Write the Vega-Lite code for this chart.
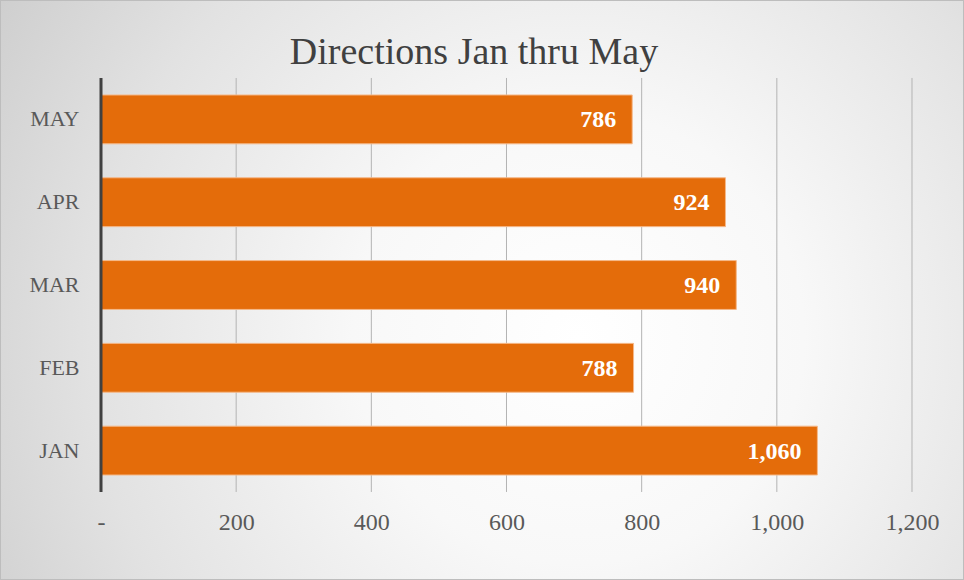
{
  "$schema": "https://vega.github.io/schema/vega-lite/v6.json",
  "width": 964,
  "height": 580,
  "padding": 0,
  "autosize": {"type": "none"},
  "background": "#d6d6d6",
  "view": {
    "fill": {
      "gradient": "radial",
      "x1": 0.6, "y1": 0.55, "r1": 0,
      "x2": 0.6, "y2": 0.55, "r2": 0.78,
      "stops": [
        {"offset": 0, "color": "#ffffff"},
        {"offset": 0.3, "color": "#f8f8f8"},
        {"offset": 0.65, "color": "#e2e2e2"},
        {"offset": 1, "color": "#c6c6c6"}
      ]
    },
    "stroke": "#bdbdbd",
    "strokeWidth": 2
  },
  "title": {
    "text": "Directions Jan thru May",
    "anchor": "middle",
    "offset": -64,
    "dy": 38,
    "baseline": "alphabetic",
    "fontSize": 38,
    "font": "Liberation Serif",
    "fontWeight": "normal",
    "color": "#404040",
    "dx": -8
  },
  "datasets": {
    "months": [
      {"month": "MAY", "value": 786},
      {"month": "APR", "value": 924},
      {"month": "MAR", "value": 940},
      {"month": "FEB", "value": 788},
      {"month": "JAN", "value": 1060}
    ],
    "grid": [
      {"v": 200}, {"v": 400}, {"v": 600}, {"v": 800}, {"v": 1000}, {"v": 1200}
    ],
    "zero": [
      {"v": 0}
    ]
  },
  "layer": [
    {
      "data": {"name": "grid"},
      "mark": {"type": "rule", "color": "#b4b4b4", "strokeWidth": 1},
      "encoding": {
        "x": {"field": "v", "type": "quantitative"},
        "y": {"datum": "MAY", "bandPosition": -0.348},
        "y2": {"datum": "JAN", "bandPosition": 1.347}
      }
    },
    {
      "data": {"name": "months"},
      "mark": {"type": "bar", "color": "#e46c0a", "stroke": "#f5b98a", "strokeWidth": 1},
      "encoding": {
        "x": {
          "field": "value",
          "type": "quantitative",
          "scale": {"domain": [-149.45, 1276.95], "nice": false},
          "axis": {
            "orient": "bottom",
            "offset": -88,
            "values": [0, 200, 400, 600, 800, 1000, 1200],
            "domain": false,
            "ticks": false,
            "grid": false,
            "labelExpr": "datum.value == 0 ? '-' : format(datum.value, ',')",
            "labelFontSize": 24,
            "labelFont": "Liberation Serif",
            "labelColor": "#595959",
            "labelPadding": 18,
            "labelFlush": false,
            "labelOverlap": false,
            "title": null
          }
        },
        "y": {
          "field": "month",
          "type": "nominal",
          "sort": ["MAY", "APR", "MAR", "FEB", "JAN"],
          "scale": {
            "domain": ["MAY", "APR", "MAR", "FEB", "JAN"],
            "range": [78, 492],
            "paddingInner": 0.41,
            "paddingOuter": 0.205
          },
          "axis": {
            "orient": "left",
            "offset": -101,
            "domain": false,
            "ticks": false,
            "grid": false,
            "labelFontSize": 22,
            "labelFont": "Liberation Serif",
            "labelColor": "#595959",
            "labelPadding": 22,
            "title": null
          }
        }
      }
    },
    {
      "data": {"name": "zero"},
      "mark": {"type": "rule", "color": "#404040", "strokeWidth": 3},
      "encoding": {
        "x": {"field": "v", "type": "quantitative"},
        "y": {"datum": "MAY", "bandPosition": -0.348},
        "y2": {"datum": "JAN", "bandPosition": 1.347}
      }
    },
    {
      "data": {"name": "months"},
      "mark": {
        "type": "text",
        "align": "right",
        "baseline": "middle",
        "dx": -16,
        "dy": 1,
        "font": "Liberation Serif",
        "fontWeight": "bold",
        "fontSize": 24,
        "color": "#ffffff"
      },
      "encoding": {
        "x": {"field": "value", "type": "quantitative"},
        "y": {"field": "month", "type": "nominal", "sort": ["MAY", "APR", "MAR", "FEB", "JAN"]},
        "text": {"field": "value", "type": "quantitative", "format": ","}
      }
    }
  ]
}
